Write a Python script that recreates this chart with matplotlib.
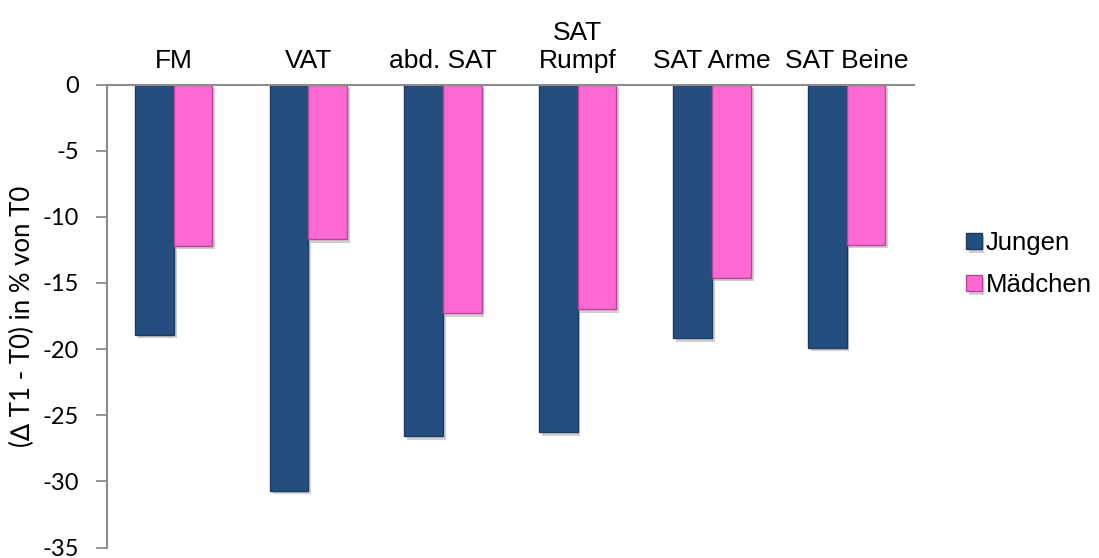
import matplotlib
matplotlib.use("Agg")
import matplotlib.pyplot as plt
import matplotlib.patheffects as pe
import numpy as np

categories = ["FM", "VAT", "abd. SAT", "SAT\nRumpf", "SAT Arme", "SAT Beine"]
jungen = [-18.9, -30.7, -26.6, -26.3, -19.2, -19.9]
maedchen = [-12.2, -11.7, -17.3, -17.0, -14.6, -12.1]
series_names = ["Jungen", "Mädchen"]
yticks = [0, -5, -10, -15, -20, -25, -30, -35]
ylabel = "(\u2206 T1 - T0) in % von T0"

W, H = 1099, 558
fig = plt.figure(figsize=(W / 100, H / 100), dpi=100)
ax = fig.add_axes([106.5 / W, (H - 547.5) / H, (914 - 106.5) / W, (547.5 - 84.5) / H])

x = np.arange(len(categories))
w = 0.287
shadow = [pe.SimplePatchShadow(offset=(2, -2.5), alpha=0.28, shadow_rgbFace="#555555"), pe.Normal()]
b1 = ax.bar(x - w / 2, jungen, w, color="#254E80", edgecolor="#1A3A62", linewidth=1.0,
            label=series_names[0], zorder=3)
b2 = ax.bar(x + w / 2, maedchen, w, color="#FF69D4", edgecolor="#B8449A", linewidth=1.0,
            label=series_names[1], zorder=3)
for b in list(b1) + list(b2):
    b.set_path_effects(shadow)

ax.set_xlim(-0.5, len(categories) - 0.5)
ax.set_ylim(-35, 0)
ax.set_yticks(yticks)
ax.set_yticklabels([str(v) for v in yticks], family=["Lato", "DejaVu Sans"], fontsize=17)

ax.xaxis.tick_top()
ax.set_xticks(x)
ax.set_xticklabels(categories, family=["Liberation Sans", "DejaVu Sans"], fontsize=19,
                   linespacing=1.22)
ax.tick_params(axis="x", length=0, pad=8)
ax.tick_params(axis="y", direction="out", length=8, width=1.3, color="#8C8C8C", pad=12)

for s in ["bottom", "right"]:
    ax.spines[s].set_visible(False)
for s in ["left", "top"]:
    ax.spines[s].set_color("#8C8C8C")
    ax.spines[s].set_linewidth(1.5)
ax.spines["top"].set_zorder(5)

ax.set_ylabel(ylabel, family=["Lato", "DejaVu Sans"], fontsize=18.5, labelpad=5)

leg = fig.legend(handles=[b1, b2], labels=series_names, loc="center left",
                 bbox_to_anchor=((965 - 4) / W, 1 - 264 / H), frameon=False,
                 prop={"family": ["Liberation Sans", "DejaVu Sans"], "size": 18.5},
                 handlelength=0.6, handleheight=0.6, handletextpad=0.15, labelspacing=0.7,
                 borderpad=0.2, borderaxespad=0)

fig.savefig("out.png", dpi=100)
